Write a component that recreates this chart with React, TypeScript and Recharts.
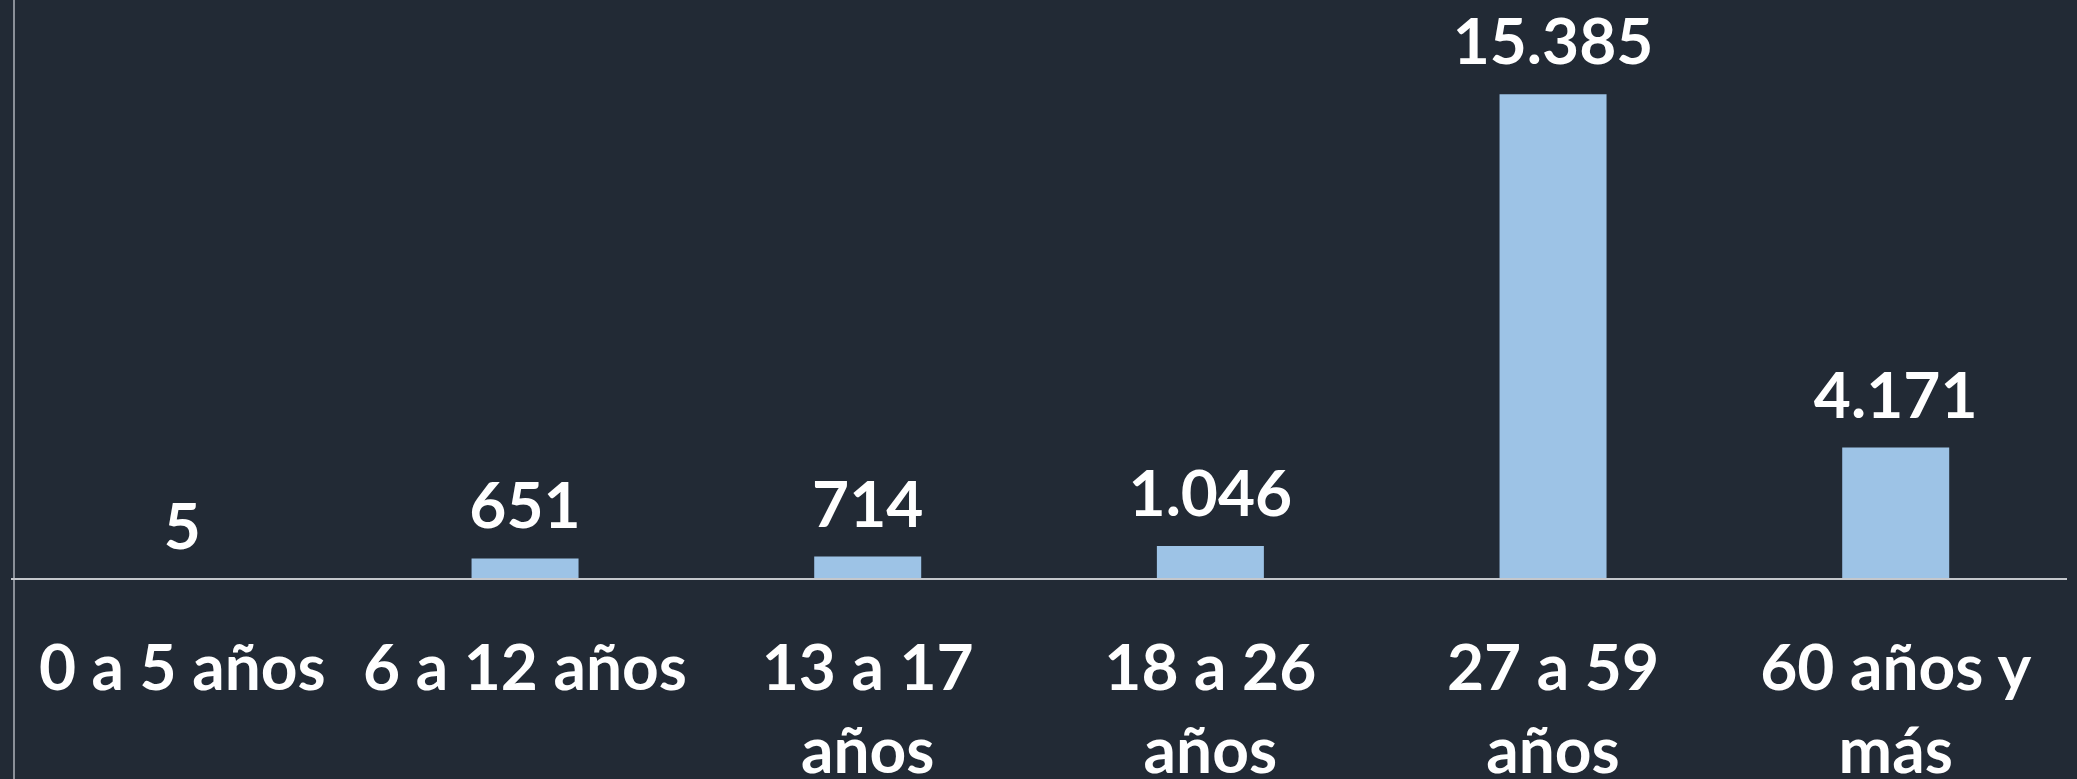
import { BarChart, Bar, XAxis, YAxis, LabelList } from "recharts";

const CATEGORIES = [
  "0 a 5 años",
  "6 a 12 años",
  "13 a 17 años",
  "18 a 26 años",
  "27 a 59 años",
  "60 años y más",
];
const VALUES = [5, 651, 714, 1046, 15385, 4171];

const BG = "#222a35";
const BAR_COLOR = "#9dc3e6";
const FONT = "Lato, 'Open Sans', sans-serif";

const data = CATEGORIES.map((name, i) => ({ name, value: VALUES[i] }));

// 15385 -> "15.385"
const fmt = (v: any) =>
  String(v).replace(/\B(?=(\d{3})+(?!\d))/g, ".");

// labels longer than the band get their last word pushed to a second line
function splitLabel(s: string): string[] {
  if (s.length <= 11) return [s];
  const i = s.lastIndexOf(" ");
  return [s.slice(0, i), s.slice(i + 1)];
}

function CategoryTick(props: any) {
  const { x, y, payload } = props;
  const lines = splitLabel(String(payload.value));
  return (
    <text
      x={x}
      y={y}
      textAnchor="middle"
      fill="#ffffff"
      style={{ fontFamily: FONT, fontSize: 64, fontWeight: 700 }}
    >
      {lines.map((l, i) => (
        <tspan key={i} x={x} dy={i === 0 ? 46 : 83}>
          {l}
        </tspan>
      ))}
    </text>
  );
}

export default function App() {
  return (
    <div
      style={{
        position: "absolute",
        left: 0,
        top: 0,
        width: 2077,
        height: 779,
        background: BG,
        overflow: "hidden",
      }}
    >
      {/* frame line on the left */}
      <div
        style={{
          position: "absolute",
          left: 13,
          top: 0,
          width: 1.5,
          height: 779,
          background: "#8a8f98",
        }}
      />
      <BarChart
        width={2077}
        height={779}
        data={data}
        margin={{ top: 12, right: 10, left: 11, bottom: 0 }}
        barCategoryGap="34.4%"
      >
        <XAxis
          dataKey="name"
          height={200}
          tickSize={0}
          tickMargin={65}
          axisLine={{ stroke: "#c4c7cc", strokeWidth: 2 }}
          tickLine={false}
          interval={0}
          tick={<CategoryTick />}
        />
        <YAxis hide domain={[0, 18000]} />
        <Bar dataKey="value" fill={BAR_COLOR} isAnimationActive={false}>
          <LabelList
            dataKey="value"
            position="top"
            offset={30}
            formatter={fmt}
            fill="#ffffff"
            style={{ fontFamily: FONT, fontSize: 64, fontWeight: 700 }}
          />
        </Bar>
      </BarChart>
    </div>
  );
}
